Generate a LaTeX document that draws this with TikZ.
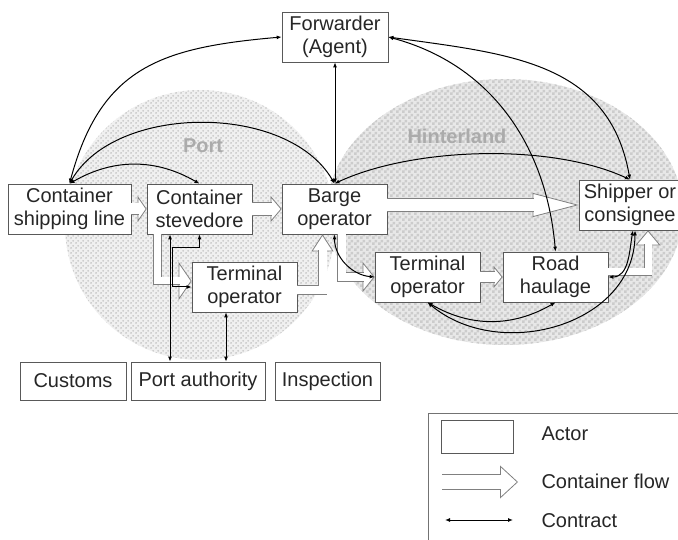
\documentclass[tikz,border=0pt]{standalone}
\usepackage{fontspec}
\setmainfont{Liberation Sans}
\usetikzlibrary{arrows.meta,patterns}

% textures of the two areas
\pgfdeclarepatternformonly{portdots}{\pgfqpoint{0pt}{0pt}}{\pgfqpoint{5pt}{5pt}}{\pgfqpoint{5pt}{5pt}}{%
	\pgfpathcircle{\pgfqpoint{1.25pt}{1.25pt}}{1.1pt}
	\pgfpathcircle{\pgfqpoint{3.75pt}{3.75pt}}{1.1pt}
	\pgfusepath{fill}}
\pgfdeclarepatternformonly{hintcheck}{\pgfqpoint{0pt}{0pt}}{\pgfqpoint{6pt}{6pt}}{\pgfqpoint{6pt}{6pt}}{%
	\pgfpathrectangle{\pgfqpoint{0pt}{0pt}}{\pgfqpoint{3pt}{3pt}}
	\pgfpathrectangle{\pgfqpoint{3pt}{3pt}}{\pgfqpoint{3pt}{3pt}}
	\pgfusepath{fill}}

\tikzset{
	actor/.style={draw=black!65, fill=white, line width=0.7pt, align=center, text=black!85,
		font=\fontsize{20}{23}\selectfont, inner sep=2pt, minimum height=50},
	label/.style={anchor=west, text=black!85, font=\fontsize{20}{23}\selectfont},
	region/.style={text=black!33, font=\fontsize{20}{23}\selectfont\bfseries},
	contract/.style={{Latex[length=5pt,width=4pt]}-{Latex[length=5pt,width=4pt]}, line width=1pt, black},
	fhead/.style 2 args={draw=black!50, line width=0.8pt, -{Triangle[length=#1,width=#2,fill=white]}},
	fshaft/.style 2 args={draw=black!50, line width=0.8pt, double=white, double distance=#1, shorten >=#2-1pt},
}

\begin{document}
\begin{tikzpicture}[x=1pt,y=1pt]
	\clip (0,0) rectangle (678,539);
	% port and hinterland
	\fill[gray!18, postaction={pattern=hintcheck, pattern color=gray!40}] (505,327) ellipse [x radius=178, y radius=133];
	\fill[gray!12, postaction={pattern=portdots, pattern color=gray!48}] (200,314) circle [radius=135];
	\path (203,393) node[region] (portlbl) {Port};
	\path (457,403) node[region] (hintlbl) {Hinterland};

	% actors
	\node[actor, minimum width=106] (fwd) at (335,502) {Forwarder\\(Agent)};
	\node[actor, minimum width=123] (csl) at (69.5,330) {Container\\shipping line};
	\node[actor, minimum width=105] (stev) at (199.5,330) {Container\\stevedore};
	\node[actor, minimum width=105] (barge) at (334.5,330) {Barge\\operator};
	\node[actor, minimum width=102] (ship) at (630,334) {Shipper or\\consignee};
	\node[actor, minimum width=105] (termP) at (244.5,252) {Terminal\\operator};
	\node[actor, minimum width=105] (termH) at (427.5,262) {Terminal\\operator};
	\node[actor, minimum width=105] (road) at (555.5,262) {Road\\haulage};
	\node[actor, minimum width=106, minimum height=38] (cust) at (73,158) {Customs};
	\node[actor, minimum width=134, minimum height=38] (pauth) at (198,158) {Port authority};
	\node[actor, minimum width=105, minimum height=38] (insp) at (327.5,158) {Inspection};

	% container flow
	\draw[fhead={9pt}{26pt}] (csl) -- (stev);
	\draw[fshaft={11pt}{9pt}] (csl) -- (stev);
	\draw[fhead={11pt}{26pt}] (stev) -- (barge);
	\draw[fshaft={12pt}{11pt}] (stev) -- (barge);
	\draw[fhead={46pt}{24pt}] (barge.east |- ship.west) -- (ship.west);
	\draw[fshaft={12pt}{46pt}] (barge.east |- ship.west) -- (ship.west);
	\draw[fhead={13pt}{38pt}] ([xshift=-42pt]stev.south) |- ([yshift=6pt]termP.west);
	\draw[fshaft={7pt}{13pt}] ([xshift=-42pt]stev.south) |- ([yshift=6pt]termP.west);
	\draw[fhead={17pt}{22pt}] ([yshift=-3pt]termP.east) -| ([xshift=-12pt]barge.south);
	\draw[fshaft={8pt}{17pt}] ([yshift=-3pt]termP.east) -| ([xshift=-12pt]barge.south);
	\draw[fhead={12pt}{30pt}] ([xshift=7pt]barge.south) |- (termH.west);
	\draw[fshaft={8pt}{12pt}] ([xshift=7pt]barge.south) |- (termH.west);
	\draw[fhead={9pt}{22pt}] (termH) -- (road);
	\draw[fshaft={10pt}{9pt}] (termH) -- (road);
	\draw[fhead={15pt}{25pt}] ([yshift=5pt]road.east) -| ([xshift=18pt]ship.south);
	\draw[fshaft={7pt}{15pt}] ([yshift=5pt]road.east) -| ([xshift=18pt]ship.south);

	% contracts
	\draw[contract] (csl.north) to[out=75, in=185, looseness=1.2] (fwd.west);
	\draw[contract] (csl.north) to[out=60, in=120, looseness=0.9] (barge.north);
	\draw[contract] (csl.north) to[out=30, in=150] (stev.north);
	\draw[contract] (fwd.south) -- (fwd.south |- barge.north);
	\draw[contract] (fwd.east) to[out=-8, in=100, looseness=1.1] (ship.north);
	\draw[contract] (fwd.east) to[out=-15, in=95] (road.north);
	\draw[contract] (barge.north) to[out=25, in=155, looseness=0.75] (ship.north);
	\draw[contract] (barge.south) to[out=-90, in=175] (termH.west);
	\draw[contract] (termH.south) to[out=-30, in=-150] (road.south);
	\draw[contract] (termH.south) to[out=-40, in=-90, looseness=1.1] ([xshift=5pt]ship.south);
	\draw[contract] (road.east) to[out=0, in=-100] ([xshift=3pt]ship.south);
	\draw[contract] ([xshift=-29.5pt]stev.south) -- ([xshift=-29.5pt]stev.south |- pauth.north);
	\draw[contract] (stev.south) -- ++(0,-13) -| ([xshift=-19pt]termP.west) -- (termP.west);
	\draw[contract] ([xshift=-18.5pt]termP.south) -- ([xshift=-18.5pt]termP.south |- pauth.north);

	% legend
	\draw[draw=black!55, line width=0.7pt] (428,126) rectangle (700,-10);
	\node[actor, minimum width=72, minimum height=33] (lgactor) at (477,102.5) {};
	\node[label] (lgactortxt) at (538,105) {Actor};
	\coordinate (lgf1) at (442,57);
	\coordinate (lgf2) at (518,57);
	\draw[fhead={18pt}{33pt}] (lgf1) -- (lgf2);
	\draw[fshaft={14pt}{18pt}] (lgf1) -- (lgf2);
	\node[label] (lgflowtxt) at (538,58) {Container flow};
	\coordinate (lgc1) at (445,19);
	\coordinate (lgc2) at (513,19);
	\draw[contract] (lgc1) -- (lgc2);
	\node[label] (lgcontxt) at (538,18) {Contract};
\end{tikzpicture}
\end{document}
